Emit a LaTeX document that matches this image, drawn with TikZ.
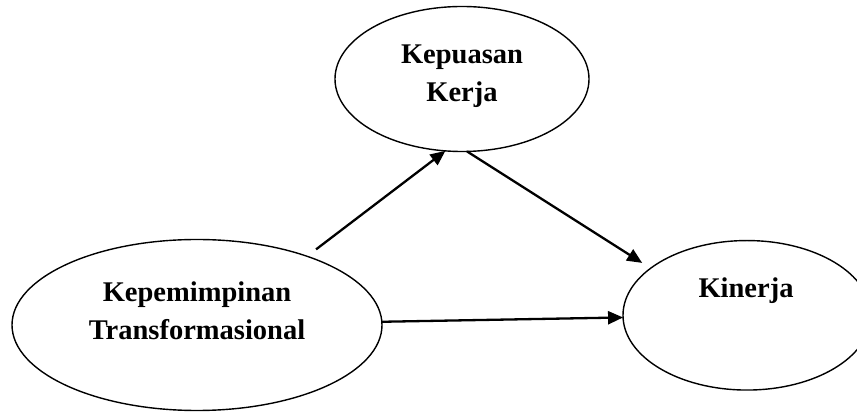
\documentclass[tikz,border=0pt]{standalone}
\usepackage{fontspec}
\setmainfont{Liberation Serif}
\usepackage{tikz}
\usetikzlibrary{arrows.meta, positioning, calc, shapes.geometric}

\begin{document}
\begin{tikzpicture}[x=1pt, y=1pt,
		var/.style={draw, ellipse, line width=1.4pt, inner sep=0pt, outer sep=0pt},
		lbl/.style={font=\fontsize{28.5}{38}\selectfont\bfseries, align=center, inner sep=0pt},
		path/.style={line width=2.3pt, -{Triangle[length=15pt, width=13pt]}}]
	\useasboundingbox (0,0) rectangle (857,412);
	% latent variables
	\node[var, minimum width=254, minimum height=145] (kep) at (462,333) {};
	\node[var, minimum width=370, minimum height=171] (trans) at (197,87) {};
	\node[var, minimum width=248, minimum height=149.5] (kin) at (747,96.7) {};
	\node[lbl] (kepT) at (462,336) {Kepuasan\\Kerja};
	\node[lbl] (transT) at (197,101.5) {Kepemimpinan\\Transformasional};
	\node[lbl] (kinT) at (746,121.8) {Kinerja};
	% paths
	\draw[path, shorten <=11.4pt] (trans.32) -- (kep.257);
	\draw[path, shorten >=10pt] (kep.274) -- (kin.154);
	\draw[path] (trans.1) -- (kin.181);
\end{tikzpicture}
\end{document}
